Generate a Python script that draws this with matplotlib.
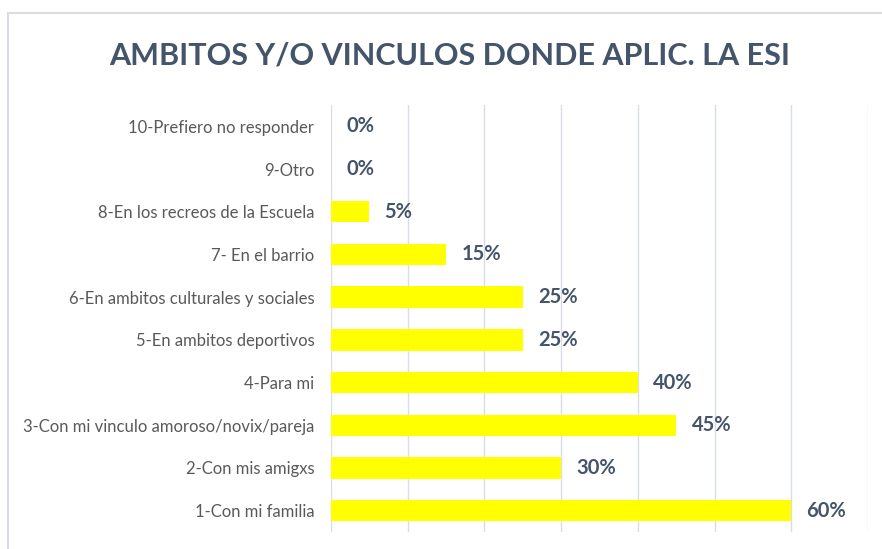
import matplotlib
matplotlib.use("Agg")
import matplotlib.pyplot as plt
from matplotlib.patches import Rectangle

categories = ["1-Con mi familia", "2-Con mis amigxs", "3-Con mi vinculo amoroso/novix/pareja",
              "4-Para mi", "5-En ambitos deportivos", "6-En ambitos culturales y sociales",
              "7- En el barrio", "8-En los recreos de la Escuela", "9-Otro", "10-Prefiero no responder"]
values = [60, 30, 45, 40, 25, 25, 15, 5, 0, 0]
value_labels = ["60%", "30%", "45%", "40%", "25%", "25%", "15%", "5%", "0%", "0%"]
xticks = [0, 10, 20, 30, 40, 50, 60, 70]
title = "AMBITOS Y/O VINCULOS DONDE APLIC. LA ESI"

W, H = 882, 549
fig = plt.figure(figsize=(W / 100, H / 100), dpi=100)
fig.patch.set_facecolor("white")

# outer chart frame
fig.patches.append(Rectangle((8 / W, -0.1), 1.2, (H - 13) / H + 0.1, transform=fig.transFigure,
                             fill=False, edgecolor="#D9DDE3", linewidth=1.5))

ax = fig.add_axes([331 / W, (H - 532) / H, (868 - 331) / W, (532 - 105) / H])
ax.barh(range(len(values)), values, height=0.5, color="#FFFF00", zorder=3)
ax.set_xlim(0, 70)
ax.set_ylim(-0.5, len(values) - 0.5)
ax.set_xticks(xticks)
ax.set_xticklabels([])
ax.tick_params(axis="x", length=0)
ax.tick_params(axis="y", length=0, pad=12)
ax.set_yticks(range(len(values)))
ax.set_yticklabels(categories, fontsize=12, color="#595959", family=["Lato", "DejaVu Sans"])
ax.grid(axis="x", color="#D9DEE6", linewidth=1, zorder=0)
for s in ax.spines.values():
    s.set_visible(False)

for i, (v, lab) in enumerate(zip(values, value_labels)):
    ax.annotate(lab, xy=(v, i), xytext=(11, 0), textcoords="offset points", va="center", ha="left",
                fontsize=14.5, fontweight="bold", color="#44546A", family=["Lato", "DejaVu Sans"])

fig.text(450 / W, (H - 55) / H, title, ha="center", va="center", fontsize=22, fontweight="bold",
         color="#44546A", family=["Lato", "DejaVu Sans"])

fig.savefig("out.png", dpi=100)
